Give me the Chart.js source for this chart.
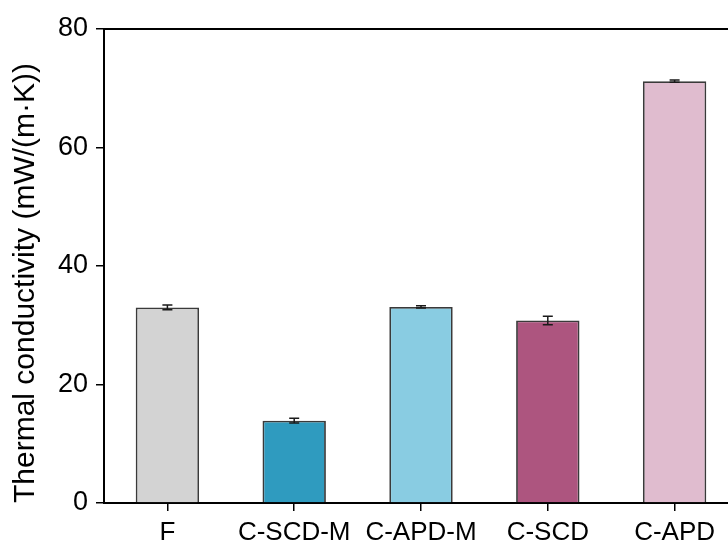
<!DOCTYPE html>
<html>
<head>
<meta charset="utf-8">
<script src="https://cdn.jsdelivr.net/npm/chart.js@4.4.1/dist/chart.umd.min.js"></script>
<style>
  html, body { margin: 0; padding: 0; background: #fff; overflow: hidden; }
  #wrap { width: 744px; height: 540px; }
</style>
</head>
<body>
<div id="wrap"><canvas id="tcChart" width="744" height="540"></canvas></div>
<script>
const categories = ['F', 'C-SCD-M', 'C-APD-M', 'C-SCD', 'C-APD'];
const conductivity = [33.0, 13.9, 33.1, 30.8, 71.2];
const conductivityErr = [0.4, 0.4, 0.2, 0.7, 0.2];
const yTicks = [0, 20, 40, 60, 80];
const barColors = ['#d3d3d3', '#2f9bbf', '#89cce2', '#ad557f', '#e0bccf'];

const fontFamily = '"Liberation Sans", Arial, sans-serif';

// error bars + top frame line
const errorBarPlugin = {
    id: 'errorBars',
    afterDatasetsDraw(chart) {
        const ctx = chart.ctx;
        const meta = chart.getDatasetMeta(0);
        const yScale = chart.scales.y;
        ctx.save();
        ctx.strokeStyle = '#1a1a1a';
        ctx.lineWidth = 1.5;
        meta.data.forEach((bar, i) => {
            const v = conductivity[i];
            const e = conductivityErr[i];
            const yHi = yScale.getPixelForValue(v + e);
            const yLo = yScale.getPixelForValue(v - e);
            const half = 5;
            ctx.beginPath();
            ctx.moveTo(bar.x, yHi);
            ctx.lineTo(bar.x, yLo);
            ctx.moveTo(bar.x - half, yHi);
            ctx.lineTo(bar.x + half, yHi);
            ctx.moveTo(bar.x - half, yLo);
            ctx.lineTo(bar.x + half, yLo);
            ctx.stroke();
        });
        const area = chart.chartArea;
        ctx.lineWidth = 2;
        ctx.strokeStyle = '#000';
        ctx.beginPath();
        ctx.moveTo(area.left, area.top);
        ctx.lineTo(area.right, area.top);
        ctx.lineTo(area.right, area.bottom);
        ctx.stroke();
        ctx.restore();
    }
};

new Chart(document.getElementById('tcChart'), {
    type: 'bar',
    data: {
        labels: categories,
        datasets: [{
            data: conductivity,
            backgroundColor: barColors,
            borderColor: '#3a3a3a',
            borderWidth: 1.8,
            barPercentage: 0.5,
            categoryPercentage: 1.0
        }]
    },
    options: {
        responsive: false,
        animation: false,
        devicePixelRatio: 1,
        layout: { padding: { top: 29, right: 6, left: 0, bottom: 0 } },
        plugins: {
            legend: { display: false },
            tooltip: { enabled: false }
        },
        scales: {
            x: {
                afterFit(scale) { scale.height = 37; },
                grid: {
                    offset: false,
                    drawOnChartArea: false,
                    drawTicks: true,
                    tickLength: 8,
                    color: '#000',
                    lineWidth: 1.5
                },
                border: { display: true, color: '#000', width: 2 },
                ticks: {
                    color: '#000',
                    padding: 6,
                    maxRotation: 0,
                    font: { family: fontFamily, size: 26 }
                }
            },
            y: {
                min: 0,
                max: 80,
                afterFit(scale) { scale.width = 104; },
                afterBuildTicks(scale) {
                    scale.ticks = yTicks.map(v => ({ value: v }));
                },
                grid: {
                    drawOnChartArea: false,
                    drawTicks: true,
                    tickLength: 8,
                    color: '#000',
                    lineWidth: 1.5
                },
                border: { display: true, color: '#000', width: 2 },
                ticks: {
                    color: '#000',
                    padding: 8,
                    font: { family: fontFamily, size: 27 }
                },
                title: {
                    display: true,
                    text: 'Thermal conductivity (mW/(m·K))',
                    color: '#000',
                    align: 'start',
                    padding: { top: 8, bottom: 0 },
                    font: { family: fontFamily, size: 30, weight: 'normal' }
                }
            }
        }
    },
    plugins: [errorBarPlugin]
});
</script>
</body>
</html>
